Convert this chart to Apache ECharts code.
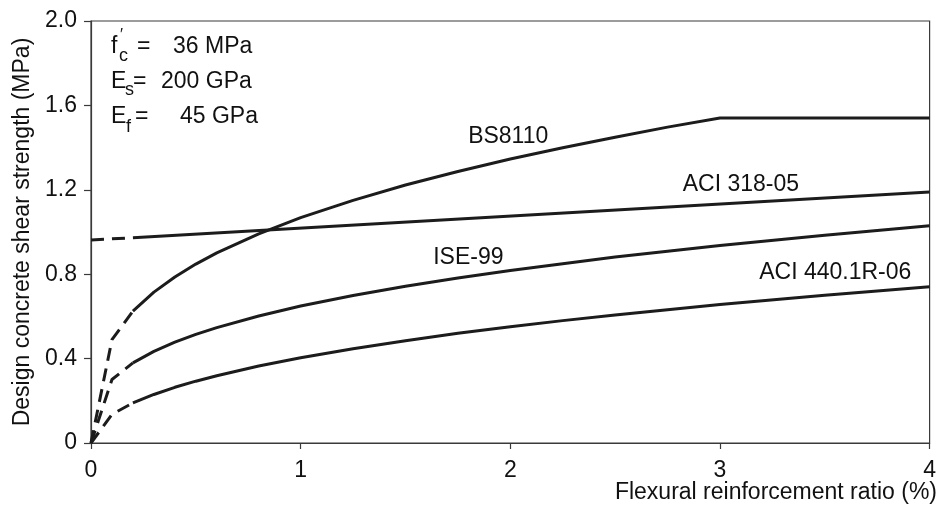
<!DOCTYPE html>
<html>
<head>
<meta charset="utf-8">
<script src="https://cdn.jsdelivr.net/npm/echarts@6/dist/echarts.min.js"></script>
<style>
  html, body { margin: 0; padding: 0; background: #fff; }
  #chart { width: 939px; height: 506px; }
</style>
</head>
<body>
<div id="chart"></div>
<script>
// Flexural reinforcement ratio (%) sampled along the solid parts of the curves
const ratio = [0.2, 0.3, 0.4, 0.5, 0.6, 0.8, 1.0, 1.25, 1.5, 1.75, 2.0, 2.25, 2.5, 2.75, 3.0, 3.5, 4.0];

// Design concrete shear strength (MPa) for each code
const bs8110   = [0.625, 0.715, 0.787, 0.848, 0.901, 0.991, 1.068, 1.150, 1.223, 1.287, 1.346, 1.399, 1.449, 1.497, 1.540, 1.540, 1.540];
const ise99    = [0.380, 0.434, 0.478, 0.515, 0.547, 0.602, 0.649, 0.699, 0.743, 0.782, 0.818, 0.850, 0.881, 0.909, 0.936, 0.985, 1.030];
const aci440   = [0.190, 0.230, 0.264, 0.293, 0.319, 0.365, 0.404, 0.447, 0.485, 0.520, 0.551, 0.580, 0.607, 0.632, 0.656, 0.700, 0.740];

// ACI 318-05 is linear in the ratio
const aci318Ratio = [0.2, 4.0];
const aci318      = [0.973, 1.190];

// Low-ratio range (0 to 0.2 %) drawn dashed
const lowRatio     = [0, 0.1, 0.2];
const bs8110Low    = [0, 0.490, 0.625];
const ise99Low     = [0, 0.301, 0.380];
const aci440Low    = [0, 0.136, 0.190];
const aci318LowRatio = [0, 0.2];
const aci318Low      = [0.962, 0.973];

// Axis ticks
const xTicks = [0, 1, 2, 3, 4];
const yTicks = ['0', '0.4', '0.8', '1.2', '1.6', '2.0'];

// Curve names with the point each name sits on (data space)
const curveNames = ['BS8110', 'ACI 318-05', 'ISE-99', 'ACI 440.1R-06'];
const nameRatio  = [1.99, 3.10, 1.80, 3.55];
const nameValue  = [1.45, 1.223, 0.877, 0.806];

const zip = (xs, ys) => xs.map((x, i) => [x, ys[i]]);

const FONT = 'Liberation Sans, Arial, Helvetica, sans-serif';
const INK = '#1c1c1c';
const TEXT = '#111';
const AXIS = '#3a3a3a';
const FS = 23;

const solid = { color: INK, width: 3, type: 'solid' };
const dashed = { color: INK, width: 3, type: [13, 8] };

function curve(name, pts, style) {
  return {
    name: name,
    type: 'line',
    data: pts,
    symbol: 'none',
    smooth: false,
    lineStyle: style,
    silent: true,
    animation: false,
    z: 3
  };
}

function txt(x, y, text, size, align) {
  return {
    type: 'text', x: x, y: y, z: 10,
    style: { text: text, fill: TEXT, font: size + 'px ' + FONT, verticalAlign: 'middle', align: align || 'left' }
  };
}

const chart = echarts.init(document.getElementById('chart'), null, { renderer: 'canvas' });

chart.setOption({
  animation: false,
  backgroundColor: '#fff',
  grid: {
    left: 91, right: 4, top: 21, bottom: 63,
    show: true, borderColor: AXIS, borderWidth: 1.2, backgroundColor: 'transparent'
  },
  xAxis: {
    type: 'value',
    min: 0, max: 4, interval: 1,
    axisLine: { show: true, lineStyle: { color: AXIS, width: 1.2 } },
    axisTick: { show: true, inside: false, length: 6, lineStyle: { color: AXIS, width: 1.2 } },
    splitLine: { show: false },
    axisLabel: {
      margin: 16, color: TEXT, fontSize: FS, fontFamily: FONT,
      formatter: v => String(xTicks[Math.round(v)])
    }
  },
  yAxis: {
    type: 'value',
    min: 0, max: 2, interval: 0.4,
    name: 'Design concrete shear strength (MPa)',
    nameLocation: 'middle',
    nameGap: 52,
    nameRotate: 90,
    nameTextStyle: { color: TEXT, fontSize: FS, fontFamily: FONT },
    axisLine: { show: true, lineStyle: { color: AXIS, width: 1.2 } },
    axisTick: { show: true, inside: false, length: 7, lineStyle: { color: AXIS, width: 1.2 } },
    splitLine: { show: false },
    axisLabel: {
      margin: 14, color: TEXT, fontSize: FS, fontFamily: FONT,
      formatter: v => yTicks[Math.round(v / 0.4)]
    }
  },
  series: [
    curve('BS8110', zip(ratio, bs8110), solid),
    curve('BS8110 low', zip(lowRatio, bs8110Low), dashed),
    curve('ISE-99', zip(ratio, ise99), solid),
    curve('ISE-99 low', zip(lowRatio, ise99Low), dashed),
    curve('ACI 440.1R-06', zip(ratio, aci440), solid),
    curve('ACI 440.1R-06 low', zip(lowRatio, aci440Low), dashed),
    curve('ACI 318-05', zip(aci318Ratio, aci318), solid),
    curve('ACI 318-05 low', zip(aci318LowRatio, aci318Low), dashed)
  ]
});

// Curve names placed through the grid's own coordinate system
const nameTexts = curveNames.map((n, i) => {
  const p = chart.convertToPixel({ gridIndex: 0 }, [nameRatio[i], nameValue[i]]);
  return txt(p[0], p[1], n, FS, 'center');
});

chart.setOption({
  graphic: [
    // x-axis title
    { type: 'text', right: 2, top: 481, style: { text: 'Flexural reinforcement ratio (%)', fill: TEXT, font: FS + 'px ' + FONT } },
    // material properties block
    txt(111, 47, 'f', FS),
    txt(120, 36, '\u2032', 16),
    txt(119, 56, 'c', 18),
    txt(137, 47, '=', FS),
    txt(173, 47, '36 MPa', FS),

    txt(111, 82, 'E', FS),
    txt(125, 90, 's', 18),
    txt(133, 82, '=', FS),
    txt(161, 82, '200 GPa', FS),

    txt(111, 117, 'E', FS),
    txt(126, 127, 'f', 18),
    txt(135, 117, '=', FS),
    txt(180, 117, '45 GPa', FS)
  ].concat(nameTexts)
});
</script>
</body>
</html>
